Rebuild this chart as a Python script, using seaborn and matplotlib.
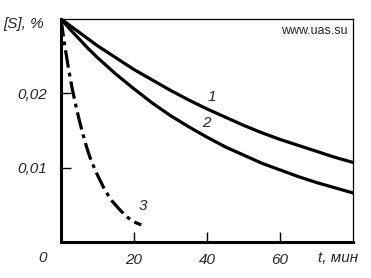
import matplotlib
matplotlib.use("Agg")
import matplotlib.pyplot as plt
import seaborn as sns
import pandas as pd

t12 = [0, 2.5, 5, 7.5, 10, 12.5, 15, 17.5, 20, 25, 30, 35, 40, 45, 50, 55, 60, 65, 70, 75, 80]
s1 = [0.0300, 0.0291, 0.0282, 0.0273, 0.0264, 0.0256, 0.0248, 0.0240, 0.0232,
      0.0218, 0.0204, 0.0191, 0.0179, 0.0168, 0.0157, 0.0147, 0.0138, 0.0130,
      0.0122, 0.0114, 0.0107]
s2 = [0.0300, 0.0286, 0.0273, 0.0260, 0.0248, 0.0237, 0.0226, 0.0216, 0.0206,
      0.0187, 0.0170, 0.0155, 0.0141, 0.0128, 0.0117, 0.0106, 0.0097, 0.0088,
      0.0080, 0.0073, 0.0066]
t3 = [0, 1, 2, 3, 4, 5, 6, 7, 8, 9, 10, 12, 14, 16, 18, 20, 22]
s3 = [0.0300, 0.0265, 0.0235, 0.0208, 0.0185, 0.0164, 0.0145, 0.0128, 0.0113,
      0.0101, 0.0090, 0.0070, 0.0055, 0.0044, 0.0034, 0.0027, 0.0023]
xticks = [20, 40, 60]
xticklabels = ["20", "40", "60"]
yticks = [0.01, 0.02]
yticklabels = ["0,01", "0,02"]

sns.set_theme(style="white")
plt.rcParams['font.family'] = ['Liberation Sans', 'DejaVu Sans']

fig = plt.figure(figsize=(3.71, 2.78), dpi=100)
ax = fig.add_axes([61/371, 1 - 242/278, (353-61)/371, (242-19)/278])

df1 = pd.DataFrame({"t": t12, "s": s1})
df2 = pd.DataFrame({"t": t12, "s": s2})
df3 = pd.DataFrame({"t": t3, "s": s3})
sns.lineplot(data=df1, x="t", y="s", ax=ax, color="black", lw=2.3)
sns.lineplot(data=df2, x="t", y="s", ax=ax, color="black", lw=2.3)
sns.lineplot(data=df3, x="t", y="s", ax=ax, color="black", lw=2.3)
ax.lines[-1].set_dashes([5.5, 1.6, 1.2, 1.6])

ax.set_xlim(0, 80)
ax.set_ylim(0, 0.03)
ax.set_xlabel("")
ax.set_ylabel("")
fs = 11
ax.set_xticks(xticks)
ax.set_xticklabels(xticklabels, fontsize=fs, style="italic")
ax.set_yticks(yticks)
ax.set_yticklabels(yticklabels, fontsize=fs, style="italic")
ax.tick_params(axis="both", direction="in", length=7, width=1, color="black",
               pad=8, bottom=True, left=True)
ax.tick_params(axis="y", pad=10)

for side in ["left", "bottom"]:
    ax.spines[side].set_linewidth(2.2)
    ax.spines[side].set_color("black")
for side in ["top", "right"]:
    ax.spines[side].set_linewidth(0.9)
    ax.spines[side].set_color("black")

fig.text(3/371, 1 - 24/278, "[S], %", fontsize=fs, style="italic", va="center", ha="left")
fig.text(43/371, 1 - 258/278, "0", fontsize=fs, style="italic", va="center", ha="center")
fig.text(338/371, 1 - 258/278, "t, мин", fontsize=fs, style="italic", va="center", ha="center")
fig.text(348/371, 1 - 31/278, "www.uas.su", fontsize=9, va="center", ha="right")
fig.text(212/371, 1 - 97/278, "1", fontsize=fs, style="italic", va="center", ha="center")
fig.text(206/371, 1 - 123/278, "2", fontsize=fs, style="italic", va="center", ha="center")
fig.text(143/371, 1 - 206/278, "3", fontsize=fs, style="italic", va="center", ha="center")

fig.savefig("out.png", dpi=100)
